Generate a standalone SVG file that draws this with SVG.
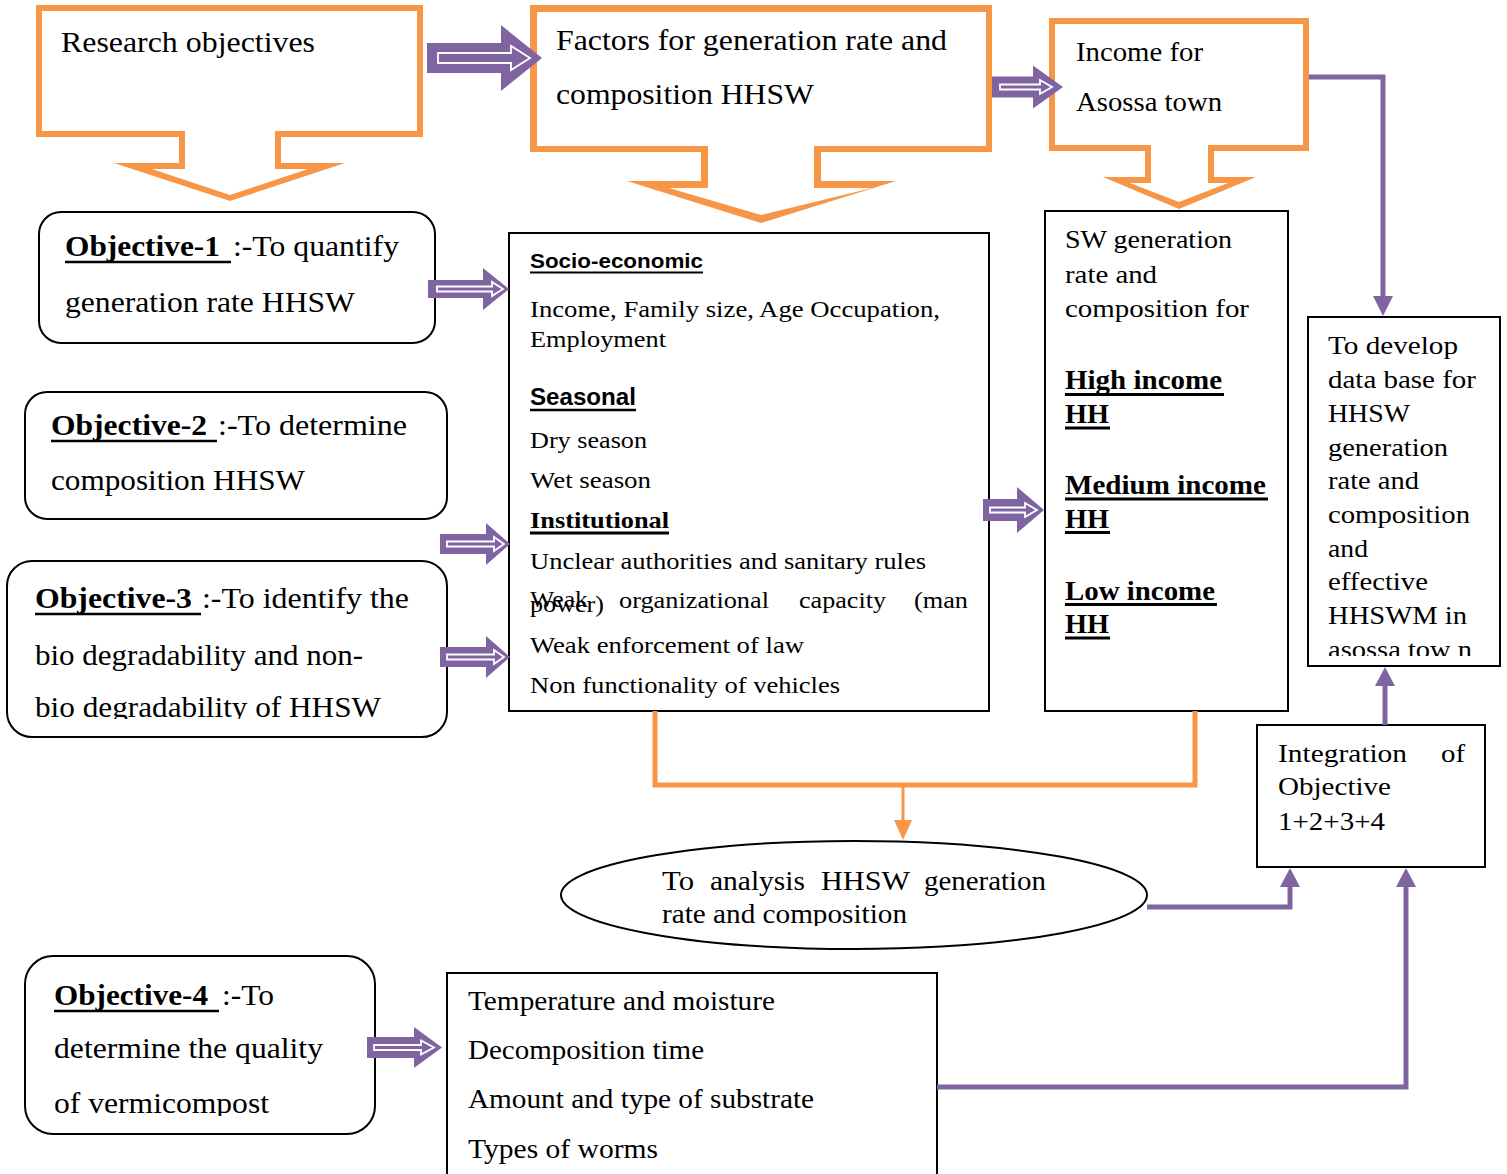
<svg xmlns="http://www.w3.org/2000/svg" width="1507" height="1174" viewBox="0 0 1507 1174">
<defs>
<style>
.t{font-family:"Liberation Serif","Times New Roman",serif;fill:#000}
.b{font-weight:bold}
.s{font-family:"Liberation Sans",Arial,sans-serif;font-weight:bold;fill:#000}
.box{fill:#fff;stroke:#000;stroke-width:2}
.co{fill:#F79646;fill-rule:evenodd}
.ci{fill:#fff}
.pl{fill:none;stroke:#8064A2;stroke-width:5}
.pa{fill:#8064A2}
.hw{fill:none;stroke:#fff;stroke-width:1.8}
.ul{stroke:#000;stroke-width:2.5}
.ul3{stroke:#000;stroke-width:3}
.ol{fill:none;stroke:#F79646;stroke-width:5}
.ol3{fill:none;stroke:#F79646;stroke-width:3}
.oa{fill:#F79646}
</style>
<clipPath id="c3"><rect x="0" y="680" width="460" height="39"/></clipPath>
<clipPath id="c4"><rect x="0" y="1080" width="400" height="36"/></clipPath>
<clipPath id="crb"><rect x="1310" y="630" width="190" height="26"/></clipPath>
<clipPath id="cel"><rect x="600" y="895" width="400" height="31"/></clipPath>
</defs>
<rect x="0" y="0" width="1507" height="1174" fill="#fff"/>

<g id="research">
<path class="ci" d="M42,11 H417 V131 H275 V169 H308 L230,195 L152,169 H185 V131 H42 Z"/>
<path class="co" d="M36,5 H423 V137 H281 V163 H345 L230,201 L114,163 H179 V137 H36 Z M42,11 H417 V131 H275 V169 H308 L230,195 L152,169 H185 V131 H42 Z"/>
<text class="t" x="61" y="52" font-size="29" textLength="254" lengthAdjust="spacingAndGlyphs">Research objectives</text>
</g>

<g id="factors">
<path class="ci" d="M537,12 H986 V146 H814 V188 H872 L761,215 L669,188 H708 V146 H537 Z"/>
<path class="co" d="M530,5 H992 V152 H821 V181 H896 L761,223 L627,181 H701 V152 H530 Z M537,12 H986 V146 H814 V188 H872 L761,215 L669,188 H708 V146 H537 Z"/>
<text class="t" x="556" y="50" font-size="29" textLength="391" lengthAdjust="spacingAndGlyphs">Factors for generation rate and</text>
<text class="t" x="556" y="104" font-size="29" textLength="258" lengthAdjust="spacingAndGlyphs">composition HHSW</text>
</g>

<g id="income">
<path class="ci" d="M1055,24 H1303 V145 H1208 V183 H1228 L1179,202 L1130,183 H1151 V145 H1055 Z"/>
<path class="co" d="M1049,18 H1309 V151 H1214 V177 H1256 L1179,209 L1103,177 H1145 V151 H1049 Z M1055,24 H1303 V145 H1208 V183 H1228 L1179,202 L1130,183 H1151 V145 H1055 Z"/>
<text class="t" x="1076" y="61" font-size="27" textLength="127" lengthAdjust="spacingAndGlyphs">Income for</text>
<text class="t" x="1076" y="111" font-size="27" textLength="146" lengthAdjust="spacingAndGlyphs">Asossa town</text>
</g>

<g id="obj1">
<rect class="box" x="39" y="212" width="396" height="131" rx="22"/>
<text class="t b" x="65" y="256" font-size="30" textLength="155" lengthAdjust="spacingAndGlyphs">Objective-1</text>
<line class="ul" x1="65" y1="262" x2="231" y2="262"/>
<text class="t" x="233" y="256" font-size="30" textLength="166" lengthAdjust="spacingAndGlyphs">:-To quantify</text>
<text class="t" x="65" y="312" font-size="30" textLength="290" lengthAdjust="spacingAndGlyphs">generation rate HHSW</text>
</g>

<g id="obj2">
<rect class="box" x="25" y="392" width="422" height="127" rx="22"/>
<text class="t b" x="51" y="435" font-size="30" textLength="156" lengthAdjust="spacingAndGlyphs">Objective-2</text>
<line class="ul" x1="51" y1="441" x2="217" y2="441"/>
<text class="t" x="218" y="435" font-size="30" textLength="189" lengthAdjust="spacingAndGlyphs">:-To determine</text>
<text class="t" x="51" y="490" font-size="30" textLength="254" lengthAdjust="spacingAndGlyphs">composition HHSW</text>
</g>

<g id="obj3">
<rect class="box" x="7" y="561" width="440" height="176" rx="25"/>
<text class="t b" x="35" y="608" font-size="30" textLength="157" lengthAdjust="spacingAndGlyphs">Objective-3</text>
<line class="ul" x1="35" y1="614" x2="201" y2="614"/>
<text class="t" x="202" y="608" font-size="30" textLength="207" lengthAdjust="spacingAndGlyphs">:-To identify the</text>
<text class="t" x="35" y="665" font-size="30" textLength="328" lengthAdjust="spacingAndGlyphs">bio degradability and non-</text>
<text class="t" x="35" y="717" font-size="30" textLength="346" lengthAdjust="spacingAndGlyphs" clip-path="url(#c3)">bio degradability of HHSW</text>
</g>

<g id="obj4">
<rect class="box" x="25" y="956" width="350" height="178" rx="28"/>
<text class="t b" x="54" y="1005" font-size="30" textLength="154" lengthAdjust="spacingAndGlyphs">Objective-4</text>
<line class="ul" x1="54" y1="1011" x2="219" y2="1011"/>
<text class="t" x="222" y="1005" font-size="30" textLength="52" lengthAdjust="spacingAndGlyphs">:-To</text>
<text class="t" x="54" y="1058" font-size="30" textLength="269" lengthAdjust="spacingAndGlyphs">determine the quality</text>
<text class="t" x="54" y="1113" font-size="30" textLength="215" lengthAdjust="spacingAndGlyphs" clip-path="url(#c4)">of vermicompost</text>
</g>

<g id="factor-box">
<rect class="box" x="509" y="233" width="480" height="478"/>
<text class="s" x="530" y="268" font-size="21" textLength="173" lengthAdjust="spacingAndGlyphs">Socio-economic</text>
<line class="ul" x1="530" y1="272.5" x2="703" y2="272.5" style="stroke-width:2"/>
<text class="t" x="530" y="317" font-size="24" textLength="410" lengthAdjust="spacingAndGlyphs">Income, Family size, Age Occupation,</text>
<text class="t" x="530" y="347" font-size="24" textLength="136" lengthAdjust="spacingAndGlyphs">Employment</text>
<text class="s" x="530" y="405" font-size="24" textLength="106" lengthAdjust="spacingAndGlyphs">Seasonal</text>
<line class="ul" x1="530" y1="410" x2="636" y2="410"/>
<text class="t" x="530" y="448" font-size="24" textLength="117" lengthAdjust="spacingAndGlyphs">Dry season</text>
<text class="t" x="530" y="488" font-size="24" textLength="121" lengthAdjust="spacingAndGlyphs">Wet season</text>
<text class="t b" x="530" y="528" font-size="24" textLength="139" lengthAdjust="spacingAndGlyphs">Institutional</text>
<line class="ul3" x1="530" y1="533" x2="669" y2="533"/>
<text class="t" x="530" y="569" font-size="24" textLength="396" lengthAdjust="spacingAndGlyphs">Unclear authorities and sanitary rules</text>
<text class="t" x="530" y="607" font-size="24" textLength="58" lengthAdjust="spacingAndGlyphs">Weak</text>
<text class="t" x="619" y="608" font-size="24" textLength="150" lengthAdjust="spacingAndGlyphs">organizational</text>
<text class="t" x="799" y="608" font-size="24" textLength="87" lengthAdjust="spacingAndGlyphs">capacity</text>
<text class="t" x="914" y="608" font-size="24" textLength="54" lengthAdjust="spacingAndGlyphs">(man</text>
<text class="t" x="530" y="612" font-size="24" textLength="74" lengthAdjust="spacingAndGlyphs">power)</text>
<text class="t" x="530" y="653" font-size="24" textLength="274" lengthAdjust="spacingAndGlyphs">Weak enforcement of law</text>
<text class="t" x="530" y="693" font-size="24" textLength="310" lengthAdjust="spacingAndGlyphs">Non functionality of vehicles</text>
</g>

<g id="sw-box">
<rect class="box" x="1045" y="211" width="243" height="500"/>
<text class="t" x="1065" y="248" font-size="26" textLength="167" lengthAdjust="spacingAndGlyphs">SW generation</text>
<text class="t" x="1065" y="283" font-size="26" textLength="92" lengthAdjust="spacingAndGlyphs">rate and</text>
<text class="t" x="1065" y="317" font-size="26" textLength="184" lengthAdjust="spacingAndGlyphs">composition for</text>
<text class="t b" x="1065" y="389" font-size="27" textLength="157" lengthAdjust="spacingAndGlyphs">High income</text>
<line class="ul3" x1="1065" y1="394.5" x2="1224" y2="394.5"/>
<text class="t b" x="1065" y="423" font-size="27" textLength="44" lengthAdjust="spacingAndGlyphs">HH</text>
<line class="ul3" x1="1065" y1="428" x2="1110" y2="428"/>
<text class="t b" x="1065" y="494" font-size="27" textLength="201" lengthAdjust="spacingAndGlyphs">Medium income</text>
<line class="ul3" x1="1065" y1="499" x2="1268" y2="499"/>
<text class="t b" x="1065" y="528" font-size="27" textLength="44" lengthAdjust="spacingAndGlyphs">HH</text>
<line class="ul3" x1="1065" y1="532.5" x2="1110" y2="532.5"/>
<text class="t b" x="1065" y="600" font-size="27" textLength="150" lengthAdjust="spacingAndGlyphs">Low income</text>
<line class="ul3" x1="1065" y1="604.5" x2="1217" y2="604.5"/>
<text class="t b" x="1065" y="633" font-size="27" textLength="44" lengthAdjust="spacingAndGlyphs">HH</text>
<line class="ul3" x1="1065" y1="638" x2="1110" y2="638"/>
</g>

<g id="develop-box">
<rect class="box" x="1308" y="317" width="192" height="349"/>
<text class="t" x="1328" y="354" font-size="26" textLength="130" lengthAdjust="spacingAndGlyphs">To develop</text>
<text class="t" x="1328" y="388" font-size="26" textLength="148" lengthAdjust="spacingAndGlyphs">data base for</text>
<text class="t" x="1328" y="422" font-size="26" textLength="82" lengthAdjust="spacingAndGlyphs">HHSW</text>
<text class="t" x="1328" y="456" font-size="26" textLength="120" lengthAdjust="spacingAndGlyphs">generation</text>
<text class="t" x="1328" y="489" font-size="26" textLength="91" lengthAdjust="spacingAndGlyphs">rate and</text>
<text class="t" x="1328" y="523" font-size="26" textLength="142" lengthAdjust="spacingAndGlyphs">composition</text>
<text class="t" x="1328" y="557" font-size="26" textLength="40" lengthAdjust="spacingAndGlyphs">and</text>
<text class="t" x="1328" y="590" font-size="26" textLength="100" lengthAdjust="spacingAndGlyphs">effective</text>
<text class="t" x="1328" y="624" font-size="26" textLength="139" lengthAdjust="spacingAndGlyphs">HHSWM in</text>
<text class="t" x="1328" y="658" font-size="26" textLength="144" lengthAdjust="spacingAndGlyphs" clip-path="url(#crb)">asossa tow n</text>
</g>

<g id="integration-box">
<rect class="box" x="1257" y="725" width="228" height="142"/>
<text class="t" x="1278" y="762" font-size="26" textLength="129" lengthAdjust="spacingAndGlyphs">Integration</text>
<text class="t" x="1441" y="762" font-size="26" textLength="24" lengthAdjust="spacingAndGlyphs">of</text>
<text class="t" x="1278" y="795" font-size="26" textLength="113" lengthAdjust="spacingAndGlyphs">Objective</text>
<text class="t" x="1278" y="830" font-size="26" textLength="107" lengthAdjust="spacingAndGlyphs">1+2+3+4</text>
</g>

<g id="analysis-ellipse">
<ellipse cx="854" cy="895" rx="293" ry="54" fill="#fff" stroke="#000" stroke-width="2"/>
<text class="t" x="662" y="890" font-size="27" textLength="32" lengthAdjust="spacingAndGlyphs">To</text>
<text class="t" x="710" y="890" font-size="27" textLength="95" lengthAdjust="spacingAndGlyphs">analysis</text>
<text class="t" x="821" y="890" font-size="27" textLength="89" lengthAdjust="spacingAndGlyphs">HHSW</text>
<text class="t" x="924" y="890" font-size="27" textLength="122" lengthAdjust="spacingAndGlyphs">generation</text>
<text class="t" x="662" y="923" font-size="27" textLength="245" lengthAdjust="spacingAndGlyphs" clip-path="url(#cel)">rate and composition</text>
</g>

<g id="vermi-box">
<rect class="box" x="447" y="973" width="490" height="210"/>
<text class="t" x="468" y="1010" font-size="27" textLength="307" lengthAdjust="spacingAndGlyphs">Temperature and moisture</text>
<text class="t" x="468" y="1059" font-size="27" textLength="236" lengthAdjust="spacingAndGlyphs">Decomposition time</text>
<text class="t" x="468" y="1108" font-size="27" textLength="346" lengthAdjust="spacingAndGlyphs">Amount and type of substrate</text>
<text class="t" x="468" y="1158" font-size="27" textLength="190" lengthAdjust="spacingAndGlyphs">Types of worms</text>
</g>

<g id="connectors">
<path class="pa" d="M427,43 H501 V25 L542,58 L501,91 V73 H427 Z"/>
<path class="hw" d="M438,53 H511 V46 L530,58 L511,70 V63 H438 Z"/>
<path class="pa" d="M992,76.5 H1033 V65.5 L1063,87 L1033,108.5 V97.5 H992 Z"/>
<path class="hw" d="M1000,84.5 H1040 V80 L1052,87 L1040,94 V89.5 H1000 Z"/>
<path class="pa" d="M428,280 H483 V268 L509,289 L483,310 V298 H428 Z"/>
<path class="hw" d="M437,286.5 H492 V282 L503,289 L492,296 V291.5 H437 Z"/>
<path class="pa" d="M440,534 H486 V523 L510,544 L486,565 V554 H440 Z"/>
<path class="hw" d="M447,541.5 H494 V537 L504,544 L494,551 V546.5 H447 Z"/>
<path class="pa" d="M440,647 H486 V636 L510,657 L486,678 V667 H440 Z"/>
<path class="hw" d="M447,654.5 H494 V650 L504,657 L494,664 V659.5 H447 Z"/>
<path class="pa" d="M983,499 H1017 V487 L1044,510 L1017,533 V521 H983 Z"/>
<path class="hw" d="M990,507.5 H1025 V503 L1037,510 L1025,517 V512.5 H990 Z"/>
<path class="pa" d="M367,1037 H414 V1027 L442,1047.5 L414,1068 V1058 H367 Z"/>
<path class="hw" d="M374,1045 H421 V1040.5 L434,1047.5 L421,1054.5 V1050 H374 Z"/>

<path class="ol" d="M655,711 V785 H1195 V711"/>
<path class="ol3" d="M903,785 V822"/>
<path class="oa" d="M894,820 H912 L903,840 Z"/>

<path class="pl" d="M1309,77 H1383 V298"/>
<path class="pa" d="M1373,296 H1393 L1383,316 Z"/>
<path class="pl" d="M1385,725 V685"/>
<path class="pa" d="M1375,686 H1395 L1385,667 Z"/>
<path class="pl" d="M1147,907 H1290 V886"/>
<path class="pa" d="M1280,887 H1300 L1290,868 Z"/>
<path class="pl" d="M937,1087 H1406 V886"/>
<path class="pa" d="M1396,887 H1416 L1406,868 Z"/>
</g>
</svg>
